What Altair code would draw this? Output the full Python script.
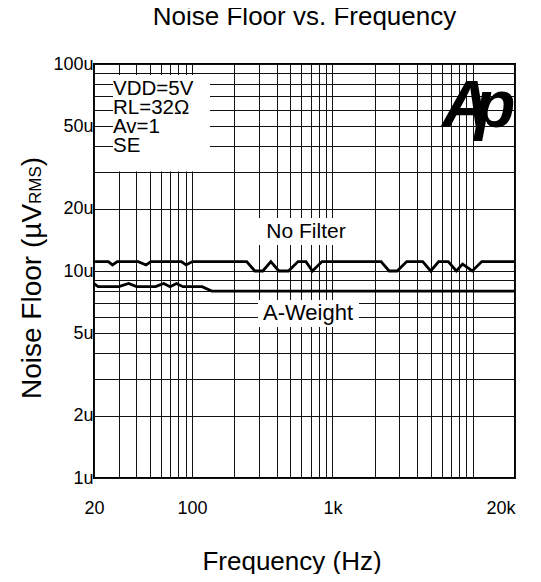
import altair as alt
import pandas as pd

# ---- data ----
nf_freq = [20, 25.3, 27.1, 29.3, 41.3, 47.0, 50.9, 83.8, 90.6, 100.7,
           245, 280, 319, 364, 415, 486, 569, 648, 720, 843,
           2222, 2537, 2891, 3384, 4401, 5015, 5716, 6688, 7636, 8468, 9911, 11597, 20000]
nf_val = [11.1, 11.1, 10.7, 11.1, 11.1, 10.7, 11.1, 11.1, 10.7, 11.1,
          11.1, 10.0, 10.0, 11.1, 10.0, 10.0, 11.1, 11.1, 10.0, 11.1,
          11.1, 10.0, 10.0, 11.1, 11.1, 10.0, 11.1, 11.1, 10.0, 10.8, 10.0, 11.1, 11.1]
aw_freq = [20, 21.4, 30.1, 35.3, 40.2, 55.0, 62.8, 69.7, 77.4, 86.1, 117.9, 138.0, 20000]
aw_val = [8.7, 8.4, 8.4, 8.7, 8.4, 8.4, 8.7, 8.4, 8.7, 8.4, 8.4, 8.0, 8.0]

x_grid = [20, 30, 40, 50, 60, 70, 80, 90, 100, 200, 300, 400, 500, 600, 700, 800, 900,
          1000, 2000, 3000, 4000, 5000, 6000, 7000, 8000, 9000, 10000, 20000]
y_grid = [1, 2, 3, 4, 5, 6, 7, 8, 9, 10, 20, 30, 40, 50, 60, 70, 80, 90, 100]
y_label_vals = [1, 2, 5, 10, 20, 50, 100]

FONT = "Liberation Sans, Arial, sans-serif"
W, H = 421, 414

curves = pd.concat([
    pd.DataFrame({"freq": nf_freq, "noise": nf_val, "series": "No Filter"}),
    pd.DataFrame({"freq": aw_freq, "noise": aw_val, "series": "A-Weight"}),
])

xscale = alt.Scale(type="log", domain=[20, 20000], nice=False)
yscale = alt.Scale(type="log", domain=[1, 100], nice=False)

x_axis = alt.Axis(
    values=x_grid, grid=True, gridColor="#111", gridWidth=1, ticks=False, tickSize=0,
    domain=False, labelOverlap=False, labelFlush=False,
    labelExpr="datum.value == 20 ? '20' : datum.value == 100 ? '100' : datum.value == 1000 ? '1k' : datum.value == 20000 ? '20k' : ''",
    labelAlign={"condition": {"test": "datum.value == 20000", "value": "right"}, "value": "center"},
    labelFont=FONT, labelFontSize=18, labelColor="black", labelPadding=30, labelBaseline="middle",
    title="Frequency (Hz)", titleFont=FONT, titleFontSize=26, titleFontWeight="normal",
    titleColor="black", titleX=197.5, titleY=91, titleAlign="center", titleBaseline="alphabetic",
)
y_axis = alt.Axis(
    values=y_grid, grid=True, gridColor="#111", gridWidth=1, ticks=False, tickSize=0,
    domain=False, labelOverlap=False, labelFlush=False,
    labelExpr="indexof([1,2,5,10,20,50,100], datum.value) >= 0 ? datum.value + 'u' : ''",
    labelFont=FONT, labelFontSize=18, labelColor="black", labelPadding=1, labelBaseline="middle",
    title=None,
)

lines = alt.Chart(curves).mark_line(color="black", strokeWidth=2.8).encode(
    x=alt.X("freq:Q", scale=xscale, axis=x_axis),
    y=alt.Y("noise:Q", scale=yscale, axis=y_axis),
    detail="series:N",
)

dummy = pd.DataFrame({"k": [0]})


def box(x1, x2, y1, y2):
    return alt.Chart(dummy).mark_rect(color="white").encode(
        x=alt.value(x1), x2=alt.value(x2), y=alt.value(y1), y2=alt.value(y2))


def label(txt, x, y, size=20, align="left", baseline="middle", angle=0, **kw):
    params = dict(text=txt, font=FONT, fontSize=size, align=align, baseline=baseline, color="black")
    if angle:
        params["angle"] = angle
    params.update(kw)
    return alt.Chart(dummy).mark_text(**params).encode(x=alt.value(x), y=alt.value(y))


logo = dict(font=FONT, fontWeight="bold", fontStyle="italic")

layers = [
    box(19, 116, 11, 107.5),
    box(164, 258, 154, 181),
    box(164, 265, 236, 263),
    lines,
    label("VDD=5V", 19, 24.5, size=20.5),
    label("RL=32Ω", 19, 43.5, size=20.5),
    label("Av=1", 19, 62.5, size=20.5),
    label("SE", 19, 81.5, size=20.5),
    label("No Filter", 212, 168, size=21, align="center"),
    label("A-Weight", 214, 249, size=22, align="center"),
    label("A", 372, 63, size=67, align="center", baseline="alphabetic", **logo),
    label("p", 401, 63, size=67, align="center", baseline="alphabetic", **logo),
    # rotated y-axis title: Noise Floor (µV_RMS)
    label("Noise Floor (µV", -53, 335, size=28, baseline="alphabetic", angle=270),
    label("RMS", -53, 140, size=17, baseline="alphabetic", angle=270),
    label(")", -53, 102.2, size=28, baseline="alphabetic", angle=270),
]

chart = alt.layer(*layers).properties(
    width=W, height=H,
    title=alt.TitleParams("Noise Floor vs. Frequency", font=FONT, fontSize=26, fontWeight="normal",
                          color="black", anchor="middle", frame="group", baseline="alphabetic", offset=4),
    autosize=alt.AutoSizeParams(type="none"),
    padding={"left": 86, "top": 56, "right": 8, "bottom": 96},
).configure_view(stroke="black", strokeWidth=2)

chart.save("out.html", embed_options={"renderer": "svg", "actions": False})
